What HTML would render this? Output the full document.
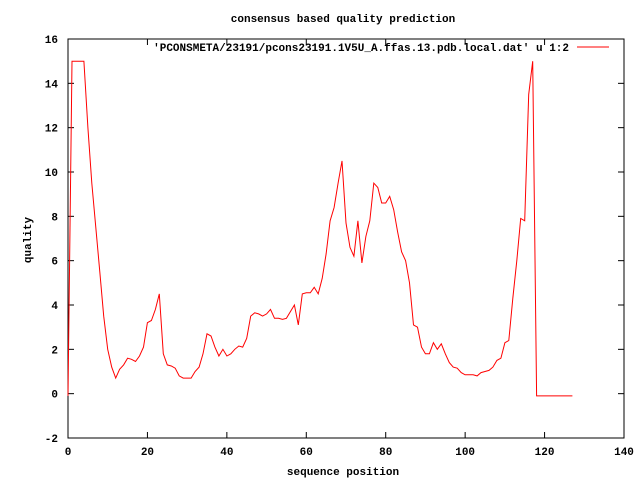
<!DOCTYPE html>
<html><head><meta charset="utf-8"><style>
body{margin:0;background:#fff}
svg text{font-family:"Liberation Mono",monospace;font-size:11px;font-weight:bold;fill:#000}
</style></head><body>
<svg id="chart" width="640" height="480" xmlns="http://www.w3.org/2000/svg">
<rect width="640" height="480" fill="#fff"/>
<g id="axes"></g>
<text x="343" y="22" text-anchor="middle">consensus based quality prediction</text>
<text x="343" y="475" text-anchor="middle">sequence position</text>
<text x="31" y="240" text-anchor="middle" transform="rotate(-90 31 240)">quality</text>
<text x="569" y="51" text-anchor="end">'PCONSMETA/23191/pcons23191.1V5U_A.ffas.13.pdb.local.dat' u 1:2</text>
<line x1="577" y1="47" x2="609" y2="47" stroke="#f00" stroke-width="1"/>
<polyline id="series" fill="none" stroke="#f00" stroke-width="1"/>
</svg>
<script>
const xTicks=[0,20,40,60,80,100,120,140];
const yTicks=[-2,0,2,4,6,8,10,12,14,16];
const quality=[-0.1,15,15,15,15,12,9.5,7.5,5.5,3.5,2,1.2,0.7,1.1,1.3,1.6,1.55,1.45,1.7,2.1,3.2,3.3,3.8,4.5,1.8,1.3,1.25,1.15,0.8,0.7,0.7,0.7,1.0,1.2,1.8,2.7,2.6,2.1,1.7,2.0,1.7,1.8,2.0,2.15,2.1,2.5,3.5,3.65,3.6,3.5,3.6,3.8,3.4,3.4,3.35,3.4,3.7,4.0,3.1,4.5,4.55,4.55,4.8,4.5,5.2,6.3,7.8,8.4,9.5,10.5,7.7,6.6,6.2,7.8,5.9,7.1,7.8,9.5,9.3,8.6,8.6,8.9,8.3,7.3,6.4,6.0,5.0,3.1,3.0,2.1,1.8,1.8,2.3,2.0,2.25,1.8,1.4,1.2,1.15,0.95,0.85,0.85,0.85,0.8,0.95,1.0,1.05,1.2,1.5,1.6,2.3,2.4,4.3,6.0,7.9,7.8,13.5,15,-0.1,-0.1,-0.1,-0.1,-0.1,-0.1,-0.1,-0.1,-0.1,-0.1];
const L=68,R=624,T=39,B=438,xMin=0,xMax=140,yMin=-2,yMax=16;
const sx=v=>L+(v-xMin)/(xMax-xMin)*(R-L);
const sy=v=>B-(v-yMin)/(yMax-yMin)*(B-T);
const NS="http://www.w3.org/2000/svg";
const ax=document.getElementById('axes');
function mk(tag,attrs){const e=document.createElementNS(NS,tag);for(const k in attrs)e.setAttribute(k,attrs[k]);return e;}
const frame=mk('rect',{x:L,y:T,width:R-L,height:B-T,fill:'none',stroke:'#000','stroke-width':1});


ax.appendChild(frame);
xTicks.forEach(v=>{const x=sx(v);
 const t1=mk('line',{x1:x,y1:B,x2:x,y2:B-6,stroke:'#000'});
 
 
 ax.appendChild(t1);
 const t2=mk('line',{x1:x,y1:T,x2:x,y2:T+6,stroke:'#000'});
 
 
 ax.appendChild(t2);
 const tx=mk('text',{x:x,y:B+17,'text-anchor':'middle'});tx.textContent=v;
 
 
 ax.appendChild(tx);});
yTicks.forEach(v=>{const y=sy(v);
 const t1=mk('line',{x1:L,y1:y,x2:L+6,y2:y,stroke:'#000'});
 
 
 ax.appendChild(t1);
 const t2=mk('line',{x1:R,y1:y,x2:R-6,y2:y,stroke:'#000'});
 
 
 ax.appendChild(t2);
 const ty=mk('text',{x:L-10,y:y+4,'text-anchor':'end'});ty.textContent=v;
 
 
 ax.appendChild(ty);});
document.getElementById('series').setAttribute('points',quality.map((v,i)=>sx(i).toFixed(1)+','+sy(v).toFixed(1)).join(' '));
</script>
</body></html>
